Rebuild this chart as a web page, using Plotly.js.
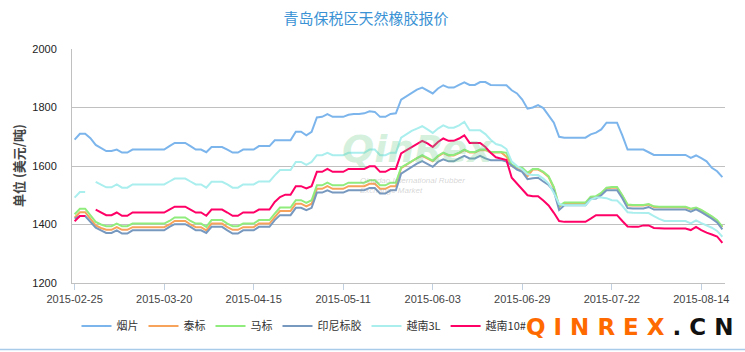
<!DOCTYPE html>
<html>
<head>
<meta charset="utf-8">
<script src="https://cdn.plot.ly/plotly-3.0.1.min.js"></script>
<style>
html,body{margin:0;padding:0;background:#fff;}
#chart{width:745px;height:352px;}
</style>
</head>
<body>
<div id="chart"></div>
<script>
const dates = [
"2015-02-25","2015-02-26","2015-02-27",
"2015-03-02","2015-03-03","2015-03-04","2015-03-05","2015-03-06",
"2015-03-09","2015-03-10","2015-03-11","2015-03-12","2015-03-13",
"2015-03-16","2015-03-17","2015-03-18","2015-03-19","2015-03-20",
"2015-03-23","2015-03-24","2015-03-25","2015-03-26","2015-03-27",
"2015-03-30","2015-03-31","2015-04-01","2015-04-02","2015-04-03",
"2015-04-07","2015-04-08","2015-04-09","2015-04-10",
"2015-04-13","2015-04-14","2015-04-15",
"2015-04-16","2015-04-17",
"2015-04-20","2015-04-21","2015-04-22","2015-04-23","2015-04-24",
"2015-04-27","2015-04-28","2015-04-29","2015-04-30",
"2015-05-04","2015-05-05","2015-05-06","2015-05-07","2015-05-08",
"2015-05-11",
"2015-05-12","2015-05-13","2015-05-14","2015-05-15",
"2015-05-18","2015-05-19","2015-05-20","2015-05-21","2015-05-22",
"2015-05-25","2015-05-26","2015-05-27","2015-05-28","2015-05-29",
"2015-06-01","2015-06-02","2015-06-03",
"2015-06-04","2015-06-05",
"2015-06-08","2015-06-09","2015-06-10","2015-06-11","2015-06-12",
"2015-06-15","2015-06-16","2015-06-17","2015-06-18","2015-06-19",
"2015-06-23","2015-06-24","2015-06-25","2015-06-26",
"2015-06-29",
"2015-06-30","2015-07-01","2015-07-02","2015-07-03",
"2015-07-06","2015-07-07","2015-07-08","2015-07-09","2015-07-10",
"2015-07-13","2015-07-14","2015-07-15","2015-07-16","2015-07-17",
"2015-07-20","2015-07-21","2015-07-22",
"2015-07-23","2015-07-24",
"2015-07-27","2015-07-28","2015-07-29","2015-07-30","2015-07-31",
"2015-08-03","2015-08-04","2015-08-05","2015-08-06","2015-08-07",
"2015-08-10","2015-08-11","2015-08-12","2015-08-13","2015-08-14",
"2015-08-17","2015-08-18","2015-08-19","2015-08-20"
];

const tickDates = ["2015-02-25","2015-03-20","2015-04-15","2015-05-11","2015-06-03","2015-06-29","2015-07-22","2015-08-14"];

const seriesNames = ["烟片","泰标","马标","印尼标胶","越南3L","越南10#"];

const yanpian = [
1690,1710,1710,1695,1672,1660,1651,1651,1656,1646,
1646,1656,1656,1656,1656,1656,1656,1656,1668,1679,
1679,1679,1668,1656,1656,1647,1665,1665,1665,1656,
1646,1646,1656,1656,1656,1668,1668,1668,1688,1688,
1688,1688,1717,1717,1705,1717,1766,1768,1777,1768,
1768,1768,1775,1778,1778,1780,1787,1785,1768,1768,
1778,1780,1827,1839,1851,1861,1868,1859,1848,1865,
1876,1868,1868,1877,1886,1877,1877,1887,1887,1877,
1877,1877,1876,1859,1848,1827,1796,1800,1808,1798,
1775,1748,1700,1697,1697,1697,1697,1697,1708,1714,
1725,1748,1748,1748,1705,1656,1656,1656,1656,1647,
1638,1638,1638,1638,1638,1638,1638,1628,1636,1627,
1616,1594,1582,1562];

const taibiao = [
1423,1442,1442,1420,1397,1388,1382,1382,1391,1382,
1382,1391,1391,1391,1391,1391,1391,1391,1400,1412,
1412,1412,1400,1391,1391,1380,1403,1403,1403,1391,
1382,1382,1391,1391,1391,1403,1403,1403,1425,1446,
1446,1446,1471,1471,1462,1471,1522,1522,1531,1522,
1522,1522,1531,1531,1531,1531,1539,1539,1522,1522,
1531,1531,1593,1604,1616,1627,1635,1626,1616,1633,
1644,1636,1636,1644,1654,1646,1646,1654,1654,1646,
1646,1646,1632,1600,1590,1585,1565,1588,1588,1578,
1562,1525,1460,1473,1473,1473,1473,1473,1493,1495,
1506,1524,1526,1526,1498,1466,1465,1465,1465,1468,
1460,1459,1459,1459,1459,1459,1459,1452,1456,1448,
1438,1426,1413,1391];

const mabiao = [
1435,1454,1454,1432,1409,1400,1394,1394,1403,1394,
1394,1403,1403,1403,1403,1403,1403,1403,1412,1424,
1424,1424,1412,1403,1403,1392,1415,1415,1415,1403,
1394,1394,1403,1403,1403,1415,1415,1415,1437,1458,
1458,1458,1483,1483,1474,1483,1534,1534,1543,1534,
1534,1534,1543,1543,1543,1543,1551,1551,1534,1534,
1543,1543,1595,1606,1618,1629,1637,1628,1618,1635,
1646,1638,1638,1646,1656,1648,1648,1656,1656,1648,
1648,1648,1645,1605,1597,1594,1577,1590,1590,1580,
1565,1528,1463,1475,1475,1475,1475,1475,1495,1497,
1508,1526,1528,1528,1500,1468,1467,1467,1467,1470,
1462,1461,1461,1461,1461,1461,1461,1454,1458,1450,
1440,1428,1415,1393];

const yinni = [
1420,1429,1429,1409,1389,1380,1371,1371,1380,1369,
1369,1380,1380,1380,1380,1380,1380,1380,1392,1401,
1401,1401,1392,1380,1380,1371,1392,1392,1392,1380,
1369,1369,1380,1380,1380,1392,1392,1392,1415,1432,
1432,1432,1457,1457,1449,1457,1509,1509,1517,1509,
1509,1509,1517,1517,1517,1517,1525,1525,1506,1506,
1517,1517,1574,1586,1597,1608,1617,1608,1597,1614,
1623,1616,1616,1626,1635,1626,1626,1635,1626,1620,
1620,1620,1615,1600,1588,1580,1555,1558,1560,1547,
1535,1515,1450,1466,1466,1466,1466,1466,1488,1489,
1500,1517,1517,1517,1490,1456,1455,1455,1455,1460,
1451,1451,1451,1451,1451,1451,1451,1444,1452,1442,
1432,1420,1407,1383];

const yuenan3L = [
1492,1511,1511,null,1546,1537,1527,1527,1537,1526,
1526,1537,1537,1537,1537,1537,1537,1537,1547,1557,
1557,1557,1547,1537,1537,1526,1546,1546,1546,1537,
1526,1526,1537,1537,1537,1547,1547,1547,1568,1586,
1586,1586,1614,1614,1604,1614,1637,1637,1645,1637,
1637,1637,1645,1645,1645,1645,1656,1656,1637,1637,
1645,1645,1697,1709,1720,1728,1736,1725,1713,1728,
1739,1731,1731,1739,1751,1722,1722,1722,1709,1690,
1675,1670,1658,1615,1600,1588,1572,1569,1569,1557,
1540,1508,1470,1466,1466,1466,1466,1466,1485,1492,
1492,1490,1483,1482,1464,1442,1440,1440,1440,1439,
1429,1419,1412,1412,1412,1412,1412,1404,1414,1405,
1397,1389,1378,1358];

const yuenan10 = [
1411,1429,1429,null,1451,1441,1432,1432,1441,1430,
1430,1441,1441,1441,1441,1441,1441,1441,1451,1461,
1461,1461,1451,1441,1441,1430,1451,1451,1451,1441,
1430,1430,1441,1441,1441,1451,1451,1451,1477,1494,
1502,1502,1531,1531,1523,1531,1580,1580,1590,1580,
1580,1580,1590,1590,1590,1590,1599,1599,1580,1580,
1590,1590,1643,1654,1665,1677,1686,1677,1665,1682,
1694,1686,1686,1694,1705,1679,1679,1679,1665,1645,
1630,1626,1620,1560,1540,1522,1500,1497,1497,1482,
1465,1440,1412,1409,1409,1409,1409,1409,1420,1432,
1432,1432,1432,1432,1412,1393,1392,1392,1397,1397,
1388,1386,1386,1386,1386,1386,1386,1381,1392,1381,
1372,1366,1359,1337];

const seriesValues = [yanpian, taibiao, mabiao, yinni, yuenan3L, yuenan10];
const seriesColors = ["#7cb5ec","#f7a35c","#90ed7d","#7798bf","#aaeeee","#ff0066"];

const traces = seriesValues.map((vals, k) => ({
  type: "scatter",
  mode: "lines",
  name: seriesNames[k],
  x: dates,
  y: vals,
  connectgaps: false,
  line: {color: seriesColors[k], width: 2},
  hoverinfo: "x+y+name"
}));

const L = 72, R = 20, T = 49, B = 69;
const W = 745 - L - R, H = 352 - T - B;
const px = (x) => (x - L) / W;
const py = (y) => (352 - B - y) / H;

const layout = {
  width: 745, height: 352,
  margin: {l: L, r: R, t: T, b: B, pad: 0},
  paper_bgcolor: "#ffffff",
  plot_bgcolor: "#ffffff",
  font: {family: "Liberation Sans, Arial, 'Noto Sans CJK SC', sans-serif", size: 11, color: "#333"},
  title: {
    text: "青岛保税区天然橡胶报价",
    font: {family: "'Noto Sans CJK SC', sans-serif", size: 15, color: "#3a92d4"},
    x: 366/745, xref: "container", xanchor: "center",
    y: 1 - 19/352, yref: "container", yanchor: "middle"
  },
  xaxis: {
    type: "category",
    range: [-0.5, dates.length - 0.5],
    tickmode: "array",
    tickvals: tickDates,
    ticktext: tickDates,
    ticks: "outside", ticklen: 6, tickwidth: 1, tickcolor: "#c0d0e0",
    showgrid: false,
    showline: true, linecolor: "#c0c0c0", linewidth: 1,
    zeroline: false,
    tickfont: {size: 11, color: "#444"},
    fixedrange: true
  },
  yaxis: {
    range: [1200, 2000],
    tickmode: "linear", tick0: 1200, dtick: 200,
    showgrid: true, gridcolor: "#c0c0c0", gridwidth: 1,
    showline: true, linecolor: "#c0c0c0", linewidth: 1,
    zeroline: false,
    ticks: "outside", ticklen: 12, tickcolor: "rgba(0,0,0,0)",
    tickfont: {size: 11, color: "#222"},
    fixedrange: true
  },
  legend: {
    orientation: "h",
    x: px(304), xanchor: "center",
    y: py(326), yanchor: "middle",
    font: {family: "'Noto Sans CJK SC', sans-serif", size: 11, color: "#333"},
    bgcolor: "rgba(0,0,0,0)",
    itemwidth: 30,
    tracegroupgap: 0
  },
  annotations: [
    {
      text: "单位 (美元/吨)", textangle: -90,
      xref: "paper", yref: "paper",
      x: px(18), y: 0.5, xanchor: "center", yanchor: "middle",
      showarrow: false,
      font: {family: "'Noto Sans CJK SC', sans-serif", size: 13, color: "#444", weight: "bold"}
    },
    {
      text: "QinRex",
      xref: "paper", yref: "paper",
      x: px(418), y: py(149), xanchor: "center", yanchor: "middle",
      showarrow: false,
      font: {family: "DejaVu Sans, sans-serif", size: 38, color: "rgba(110,205,140,0.28)", weight: "bold", style: "italic"}
    },
    {
      text: "Qingdao International Rubber<br>Exchange Market",
      xref: "paper", yref: "paper",
      x: px(412), y: py(186), xanchor: "center", yanchor: "middle",
      showarrow: false, align: "left",
      font: {family: "Liberation Sans, sans-serif", size: 8, color: "rgba(150,150,150,0.4)", style: "italic"}
    },
    {
      text: "<b><span style='color:#ff6a00'>Q I N R E X</span> . C N</b>",
      xref: "paper", yref: "paper",
      x: px(735), y: py(327), xanchor: "right", yanchor: "middle",
      showarrow: false,
      font: {family: "DejaVu Sans, sans-serif", size: 23, color: "#111"}
    }
  ],
  shapes: [
    {
      type: "line", xref: "paper", yref: "paper",
      x0: px(0), x1: px(745), y0: py(349.5), y1: py(349.5),
      line: {color: "#a9cbea", width: 1.5}
    }
  ],
  showlegend: true
};

Plotly.newPlot("chart", traces, layout, {displayModeBar: false, staticPlot: true});
</script>
</body>
</html>
